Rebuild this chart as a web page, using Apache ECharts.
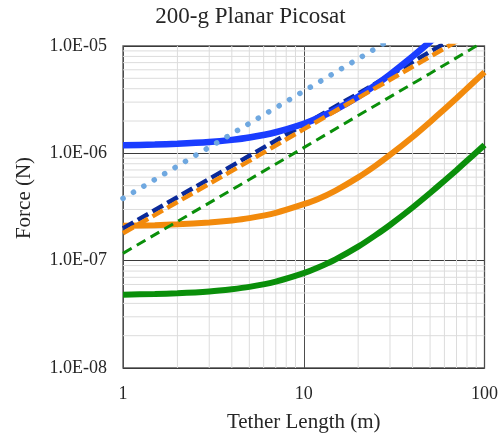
<!DOCTYPE html>
<html>
<head>
<meta charset="utf-8">
<script src="https://cdn.jsdelivr.net/npm/echarts@6/dist/echarts.min.js"></script>
<style>html,body{margin:0;padding:0;background:#fff}#c{width:501px;height:439px}</style>
</head>
<body>
<div id="c"></div>
<script>
// Tether lengths (m) for the curved series
const lengths = [1, 1.5, 2, 3, 4, 5, 7, 10, 12, 15, 20, 25, 30, 40, 50, 60, 70, 85, 100];
const blueSolid   = [1.19e-6, 1.207e-6, 1.227e-6, 1.275e-6, 1.335e-6, 1.404e-6, 1.572e-6, 1.885e-6, 2.13e-6, 2.55e-6, 3.37e-6, 4.34e-6, 5.43e-6, 7.98e-6, 1.097e-5, 1.43e-5, 1.8e-5, 2.4e-5, 3.0e-5];
const orangeSolid = [2.11e-7, 2.14e-7, 2.18e-7, 2.27e-7, 2.37e-7, 2.49e-7, 2.79e-7, 3.36e-7, 3.76e-7, 4.5e-7, 5.97e-7, 7.68e-7, 9.65e-7, 1.42e-6, 1.96e-6, 2.58e-6, 3.26e-6, 4.42e-6, 5.71e-6];
const greenSolid  = [4.82e-8, 4.89e-8, 4.97e-8, 5.17e-8, 5.42e-8, 5.7e-8, 6.38e-8, 7.64e-8, 8.62e-8, 1.028e-7, 1.35e-7, 1.73e-7, 2.15e-7, 3.13e-7, 4.27e-7, 5.55e-7, 6.97e-7, 9.34e-7, 1.198e-6];

// Tether lengths (m) for the straight series
const lengthsLin = [1, 2, 5, 10, 20, 50, 100];
const navyDashed   = [2.0e-7, 3.9e-7, 9.5e-7, 1.85e-6, 3.6e-6, 8.85e-6, 1.73e-5];
const orangeDashed = [1.8e-7, 3.52e-7, 8.5e-7, 1.68e-6, 3.28e-6, 7.95e-6, 1.56e-5];
const greenDashed  = [1.17e-7, 2.32e-7, 5.7e-7, 1.13e-6, 2.25e-6, 5.55e-6, 1.11e-5];
const lightBlueDot = [3.8e-7, 7.6e-7, 1.9e-6, 3.8e-6, 7.6e-6, 1.9e-5, 3.8e-5];

// Axis ticks
const xRange = [1, 100];
const yRange = [1e-8, 1e-5];
const xTickLabels = ['1', '10', '100'];
const yTickLabels = ['1.0E-08', '1.0E-07', '1.0E-06', '1.0E-05'];
const xMinorTicks = [2, 3, 4, 5, 6, 7, 8, 9, 20, 30, 40, 50, 60, 70, 80, 90];
const yMinorTicks = [2e-8, 3e-8, 4e-8, 5e-8, 6e-8, 7e-8, 8e-8, 9e-8,
                     2e-7, 3e-7, 4e-7, 5e-7, 6e-7, 7e-7, 8e-7, 9e-7,
                     2e-6, 3e-6, 4e-6, 5e-6, 6e-6, 7e-6, 8e-6, 9e-6];

const pair = (xs, ys) => xs.map((x, i) => [x, ys[i]]);
const FONT = '"Liberation Serif", "Times New Roman", serif';
const TXT = '#262626';

// minor grid built as broken polylines through the axes
const minorGrid = [];
xMinorTicks.forEach(v => { minorGrid.push([v, yRange[0]], [v, yRange[1]], ['-', '-']); });
yMinorTicks.forEach(v => { minorGrid.push([xRange[0], v], [xRange[1], v], ['-', '-']); });

const chart = echarts.init(document.getElementById('c'), null, {renderer: 'canvas'});

chart.setOption({
  animation: false,
  backgroundColor: '#fff',
  title: {
    text: '200-g Planar Picosat',
    left: 'center',
    top: 0,
    textStyle: {fontFamily: FONT, fontSize: 23, fontWeight: 'normal', color: TXT}
  },
  grid: {
    left: 123, right: 15, top: 46, bottom: 71,
    show: true, borderColor: '#555555', borderWidth: 1.3, backgroundColor: 'transparent'
  },
  xAxis: {
    type: 'log', logBase: 10, min: xRange[0], max: xRange[1],
    name: 'Tether Length (m)', nameLocation: 'middle', nameGap: 44,
    nameTextStyle: {fontFamily: FONT, fontSize: 21, color: TXT},
    axisLine: {show: false}, axisTick: {show: false},
    axisLabel: {
      fontFamily: FONT, fontSize: 18, color: TXT, margin: 17,
      formatter: v => xTickLabels[Math.round(Math.log10(v))]
    },
    splitLine: {show: true, lineStyle: {color: '#4d4d4d', width: 1}}
  },
  yAxis: {
    type: 'log', logBase: 10, min: yRange[0], max: yRange[1],
    name: 'Force (N)', nameLocation: 'middle', nameGap: 88,
    nameTextStyle: {fontFamily: FONT, fontSize: 21, color: TXT, padding: [0, 0, 0, 18]},
    axisLine: {show: false}, axisTick: {show: false},
    axisLabel: {
      fontFamily: FONT, fontSize: 18, color: TXT, margin: 16, padding: [9, 0, 0, 0],
      formatter: v => yTickLabels[Math.round(Math.log10(v)) + 8]
    },
    splitLine: {show: true, lineStyle: {color: '#3a3a3a', width: 1}}
  },
  series: [
    {
      name: 'minor grid', type: 'line', z: 1, silent: true, showSymbol: false,
      connectNulls: false, data: minorGrid,
      lineStyle: {color: '#dcdcdc', width: 1},
      emphasis: {disabled: true}
    },
    {
      name: 'Orange solid', type: 'line', z: 3, showSymbol: false, smooth: 0.2,
      data: pair(lengths, orangeSolid),
      lineStyle: {color: '#f28a0c', width: 6}
    },
    {
      name: 'Green solid', type: 'line', z: 3, showSymbol: false, smooth: 0.2,
      data: pair(lengths, greenSolid),
      lineStyle: {color: '#0a8f0a', width: 6}
    },
    {
      name: 'Navy dashed', type: 'line', z: 4, showSymbol: false,
      data: pair(lengthsLin, navyDashed),
      lineStyle: {color: '#0b2a9a', width: 4.5, type: [12, 5]}
    },
    {
      name: 'Blue solid', type: 'line', z: 5, showSymbol: false, smooth: 0.2,
      data: pair(lengths, blueSolid),
      lineStyle: {color: '#1a3dff', width: 6.5}
    },
    {
      name: 'Orange dashed', type: 'line', z: 6, showSymbol: false,
      data: pair(lengthsLin, orangeDashed),
      lineStyle: {color: '#f28a0c', width: 4.5, type: [12, 5]}
    },
    {
      name: 'Green dashed', type: 'line', z: 6, showSymbol: false,
      data: pair(lengthsLin, greenDashed),
      lineStyle: {color: '#0a8f0a', width: 3, type: [10, 6]}
    },
    {
      name: 'Light blue dotted', type: 'line', z: 7, showSymbol: false,
      data: pair(lengthsLin, lightBlueDot),
      lineStyle: {color: '#6fa8e0', width: 5.5, type: [0.1, 12], cap: 'round'}
    }
  ]
});
</script>
</body>
</html>
